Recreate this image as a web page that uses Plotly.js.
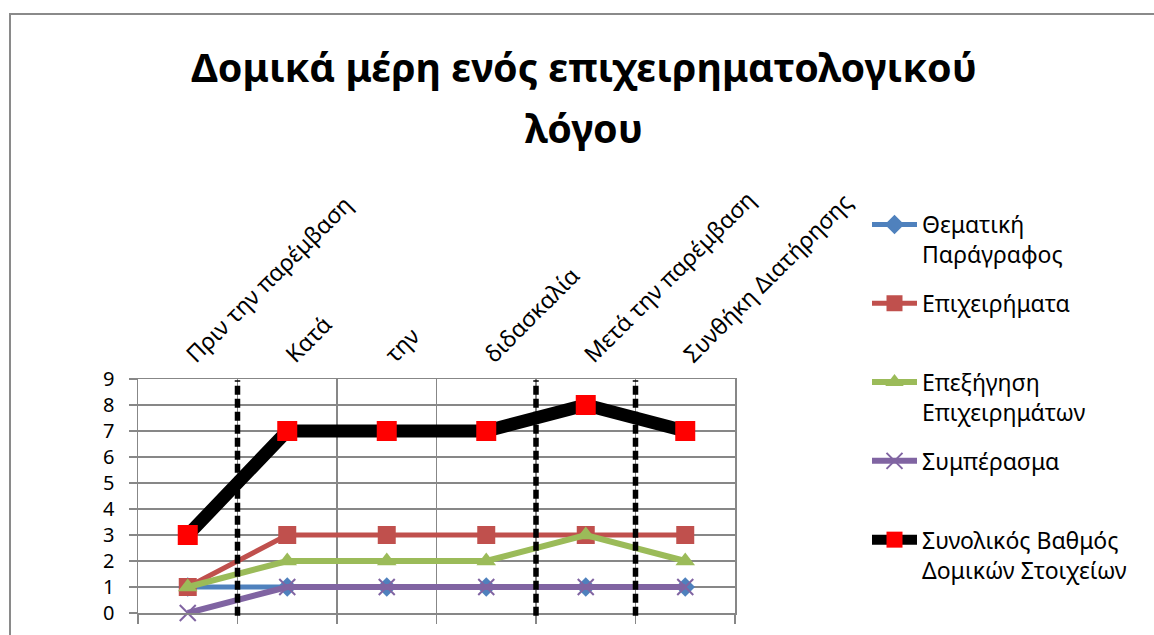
<!DOCTYPE html>
<html>
<head>
<meta charset="utf-8">
<script src="https://cdn.plot.ly/plotly-3.0.1.min.js"></script>
<style>
  html, body { margin: 0; padding: 0; overflow: hidden; background: #ffffff; }
  #chart { position: absolute; left: 0; top: 0; width: 1154px; height: 635px; }
  #frame { position: absolute; left: 9px; top: 13px; width: 1200px; height: 700px;
           border: 2px solid #8a8a8a; pointer-events: none; }
</style>
</head>
<body>
<div id="chart"></div>
<div id="frame"></div>
<script>
// ---- data ----
const categories = ["Πριν την παρέμβαση", "Κατά", "την", "διδασκαλία", "Μετά την παρέμβαση", "Συνθήκη Διατήρησης"];
const thematiki = [1, 1, 1, 1, 1, 1];
const epixeirimata = [1, 3, 3, 3, 3, 3];
const epexigisi = [1, 2, 2, 2, 3, 2];
const symperasma = [0, 1, 1, 1, 1, 1];
const synolikos = [3, 7, 7, 7, 8, 7];
const seriesNames = [
  "Θεματική<br>Παράγραφος",
  "Επιχειρήματα<br>\u00a0",
  "Επεξήγηση<br>Επιχειρημάτων",
  "Συμπέρασμα<br>\u00a0",
  "Συνολικός Βαθμός<br>Δομικών Στοιχείων"
];
const phaseBoundaries = [0.5, 3.5, 4.5];
const yTicks = [0, 1, 2, 3, 4, 5, 6, 7, 8, 9];

// ---- chart ----
const FONT = "Noto Sans, Open Sans, sans-serif";
const GRID = "#878787";

function tr(y, name, color, width, symbol, msize, mcolor, group) {
  return {
    type: "scatter", mode: "lines+markers",
    x: categories, y: y, name: name, legendgroup: group,
    line: { color: color, width: width },
    marker: { symbol: symbol, size: msize, color: mcolor,
              line: { width: symbol === "x-thin" ? 2 : 0, color: mcolor } },
    cliponaxis: false
  };
}

const data = [
  tr(thematiki, seriesNames[0], "#4F81BD", 5, "diamond", 15, "#4F81BD", "g1"),
  tr(epixeirimata, seriesNames[1], "#C0504D", 5, "square", 18, "#C0504D", "g2"),
  tr(epexigisi, seriesNames[2], "#9BBB59", 6, "triangle-up", 17, "#9BBB59", "g3"),
  tr(symperasma, seriesNames[3], "#8064A2", 6, "x-thin", 16, "#8064A2", "g4"),
  tr(synolikos, seriesNames[4], "#000000", 13, "square", 20, "#FF0000", "g5")
];

const shapes = phaseBoundaries.map(b => ({
  type: "line", xref: "x", yref: "paper",
  x0: b, x1: b, y0: -0.012, y1: 0.995,
  line: { color: "#000000", width: 5.5, dash: "9px,4px" },
  layer: "above"
}));

const layout = {
  width: 1154, height: 635,
  paper_bgcolor: "#ffffff", plot_bgcolor: "#ffffff",
  margin: { l: 138, r: 419, t: 379, b: 22, pad: 0 },
  font: { family: FONT, color: "#000000", size: 20 },
  title: {
    text: "Δομικά μέρη ενός επιχειρηματολογικού",
    font: { family: FONT, size: 39.5, weight: "bold", color: "#000000" },
    xref: "container", yref: "container",
    x: 584 / 1154, xanchor: "center",
    y: 1 - 68 / 635, yanchor: "middle"
  },
  annotations: [{
    text: "λόγου", showarrow: false,
    xref: "paper", yref: "paper",
    x: (584 - 138) / 597, y: (613 - 128) / 234,
    xanchor: "center", yanchor: "middle",
    font: { family: FONT, size: 39.5, weight: "bold", color: "#000000" }
  }],
  showlegend: true,
  legend: {
    xref: "container", yref: "container",
    x: 867 / 1154, xanchor: "left",
    y: 1 - 203 / 635, yanchor: "top",
    valign: "top",
    traceorder: "grouped",
    tracegroupgap: 16,
    itemwidth: 45,
    maxheight: 620,
    font: { family: FONT, size: 23, color: "#000000" },
    bgcolor: "rgba(0,0,0,0)", borderwidth: 0
  },
  xaxis: {
    type: "category", range: [-0.5, 5.5],
    categoryorder: "array", categoryarray: categories,
    tickson: "boundaries",
    showticklabels: false,
    ticks: "outside", ticklen: 9, tickwidth: 1.5, tickcolor: GRID,
    showgrid: true, gridcolor: GRID, gridwidth: 1.5,
    showline: true, linecolor: GRID, linewidth: 1.5, mirror: true,
    zeroline: false, fixedrange: true
  },
  xaxis2: {
    overlaying: "x", side: "top", anchor: "y",
    range: [-0.5, 5.5],
    tickmode: "array", tickvals: categories.map((c, i) => i), ticktext: categories,
    tickangle: -45, ticks: "", showgrid: false, zeroline: false, showline: false,
    tickfont: { family: FONT, size: 23, color: "#000000" },
    ticklabelstandoff: 6
  },
  yaxis: {
    range: [0, 9], tickmode: "array", tickvals: yTicks,
    ticks: "outside", ticklen: 8, tickwidth: 1.5, tickcolor: GRID,
    showgrid: true, gridcolor: GRID, gridwidth: 1.5,
    showline: true, linecolor: GRID, linewidth: 1.5, mirror: true,
    zeroline: false,
    tickfont: { family: FONT, size: 20, color: "#000000" },
    ticklabelstandoff: 10
  },
  shapes: shapes
};

// invisible helper trace so the top category-label axis is drawn
data.push({ type: "scatter", x: [0], y: [null], xaxis: "x2", yaxis: "y",
            showlegend: false, hoverinfo: "skip", mode: "markers" });

Plotly.newPlot("chart", data, layout, { displayModeBar: false, staticPlot: true });
</script>
</body>
</html>
